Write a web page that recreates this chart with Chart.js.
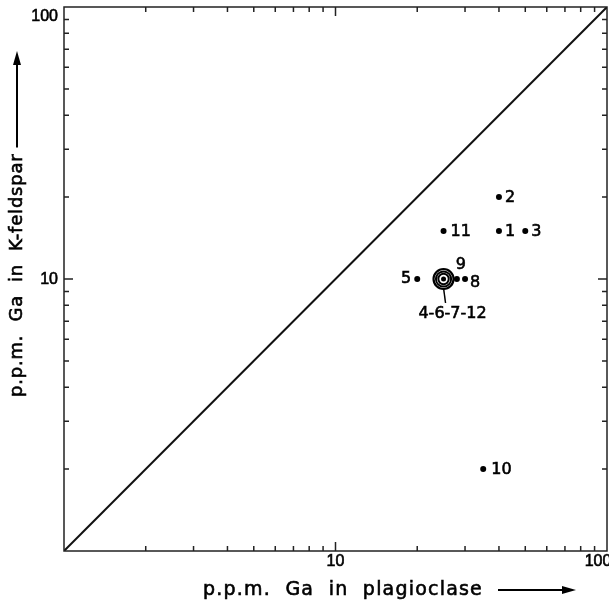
<!DOCTYPE html>
<html>
<head>
<meta charset="utf-8">
<script src="https://cdn.jsdelivr.net/npm/chart.js@4"></script>
<style>
  html, body { margin: 0; padding: 0; background: #fff; }
  #wrap { width: 609px; height: 604px; }
</style>
</head>
<body>
<div id="wrap"><canvas id="myChart" width="609" height="604"></canvas></div>
<script>
// samples plotted as single dots
const sampleLabels = ["1", "2", "3", "5", "8", "9", "10", "11"];
const plagioclase = [40, 40, 50, 20, 30, 28, 35, 25];
const kFeldspar = [15, 20, 15, 10, 10, 10, 2, 15];

// samples that fall on the same spot (drawn as concentric rings)
const sameLabels = ["4", "6", "7", "12"];
const samePlag = [25, 25, 25, 25];
const sameKfs = [10, 10, 10, 10];

// 1:1 line
const lineX = [1, 100];
const lineY = [1, 100];

const tickValues = [2, 3, 4, 5, 6, 7, 8, 9, 10, 20, 30, 40, 50, 60, 70, 80, 90];
const tickLabels = [10, 100];

const xTitle = "p.p.m.  Ga  in  plagioclase";
const yTitle = "p.p.m.  Ga  in  K-feldspar";

const font = "'Liberation Sans', Arial, sans-serif";
const titleFont = "'DejaVu Sans', sans-serif";

// where each label sits relative to its dot
const labelPlace = {
    "1": [6, 1, "left"], "2": [6, 1, "left"], "3": [6, 1, "left"],
    "11": [7, 1, "left"], "10": [8, 1, "left"], "5": [-6, 0, "right"],
    "9": [4, -14, "center"], "8": [5, 4, "left"]
};

// text with a thin outline so it reads as heavy as the print
function heavyText(ctx, s, x, y) {
    ctx.fillText(s, x, y);
    ctx.lineWidth = 0.6;
    ctx.strokeText(s, x, y);
}

function arrow(ctx, x1, y1, x2, y2) {
    const ang = Math.atan2(y2 - y1, x2 - x1);
    ctx.beginPath();
    ctx.moveTo(x1, y1);
    ctx.lineTo(x2 - 10 * Math.cos(ang), y2 - 10 * Math.sin(ang));
    ctx.lineWidth = 2;
    ctx.stroke();
    ctx.beginPath();
    ctx.moveTo(x2, y2);
    ctx.lineTo(x2 - 14 * Math.cos(ang) + 4 * Math.sin(ang), y2 - 14 * Math.sin(ang) - 4 * Math.cos(ang));
    ctx.lineTo(x2 - 14 * Math.cos(ang) - 4 * Math.sin(ang), y2 - 14 * Math.sin(ang) + 4 * Math.cos(ang));
    ctx.closePath();
    ctx.fill();
}

const frame = {
    id: "frame",
    afterDatasetsDraw(chart) {
        const ctx = chart.ctx;
        const a = chart.chartArea;
        const x = chart.scales.x, y = chart.scales.y;
        ctx.save();
        ctx.strokeStyle = "#222";
        ctx.fillStyle = "#000";
        ctx.lineWidth = 1.5;
        ctx.strokeRect(a.left, a.top, a.right - a.left, a.bottom - a.top);

        // inward ticks on all four sides
        tickValues.forEach(v => {
            const len = v === 10 ? 9 : 5;
            const px = x.getPixelForValue(v);
            const py = y.getPixelForValue(v);
            ctx.beginPath();
            ctx.moveTo(px, a.bottom); ctx.lineTo(px, a.bottom - len);
            ctx.moveTo(px, a.top); ctx.lineTo(px, a.top + len);
            ctx.moveTo(a.left, py); ctx.lineTo(a.left + len, py);
            ctx.moveTo(a.right, py); ctx.lineTo(a.right - len, py);
            ctx.stroke();
        });

        // tick labels
        ctx.strokeStyle = "#000";
        ctx.font = "16px " + font;
        ctx.textBaseline = "middle";
        tickLabels.forEach(v => {
            const shift = v === 100 ? 9 : 0;
            ctx.textAlign = "right";
            heavyText(ctx, String(v), a.left - 6, y.getPixelForValue(v) + shift + 1);
            ctx.textAlign = "center";
            heavyText(ctx, String(v), x.getPixelForValue(v) - shift, a.bottom + 11);
        });

        // point labels
        ctx.font = "16px " + titleFont;
        const pts = chart.getDatasetMeta(1).data;
        sampleLabels.forEach((lab, i) => {
            const p = labelPlace[lab];
            ctx.textAlign = p[2];
            heavyText(ctx, lab, pts[i].x + p[0], pts[i].y + p[1]);
        });

        // leader and label for the coincident samples
        const c = chart.getDatasetMeta(2).data[0];
        ctx.lineWidth = 1.5;
        ctx.beginPath();
        ctx.moveTo(c.x, c.y + 9);
        ctx.lineTo(c.x + 2, c.y + 24);
        ctx.stroke();
        ctx.textAlign = "center";
        heavyText(ctx, sameLabels.join("-"), c.x + 9, c.y + 35);

        // axis titles with arrows
        ctx.font = "19px " + titleFont;
        ctx.letterSpacing = "1.2px";
        ctx.textAlign = "left";
        heavyText(ctx, xTitle, 203, 590);
        const w = ctx.measureText(xTitle).width;
        arrow(ctx, Math.max(203 + w + 12, 498), 590, 576, 590);

        ctx.font = "18px " + titleFont;
        ctx.letterSpacing = "0.8px";
        ctx.translate(17, 397);
        ctx.rotate(-Math.PI / 2);
        heavyText(ctx, yTitle, 0, 0);
        const h = ctx.measureText(yTitle).width;
        arrow(ctx, h + 6, 0, 346, 0);
        ctx.restore();
    }
};

document.addEventListener("DOMContentLoaded", () => {
    const ctx = document.querySelector("#myChart").getContext("2d");
    new Chart(ctx, {
        type: "scatter",
        data: {
            datasets: [{
                type: "line",
                data: lineX.map((v, i) => ({ x: v, y: lineY[i] })),
                borderColor: "#111",
                borderWidth: 2,
                pointRadius: 0,
                fill: false
            }, {
                data: plagioclase.map((v, i) => ({ x: v, y: kFeldspar[i] })),
                backgroundColor: "#000",
                borderWidth: 0,
                pointRadius: 3
            }, {
                data: samePlag.map((v, i) => ({ x: v, y: sameKfs[i] })),
                pointRadius: [2.5, 5.2, 7.6, 10],
                backgroundColor: ["#000", "rgba(0,0,0,0)", "rgba(0,0,0,0)", "rgba(0,0,0,0)"],
                borderColor: "#000",
                borderWidth: [0, 2, 2, 2.2]
            }]
        },
        options: {
            responsive: false,
            animation: false,
            events: [],
            layout: { autoPadding: false, padding: { left: 64, right: 2, top: 7, bottom: 53 } },
            plugins: { legend: { display: false }, tooltip: { enabled: false } },
            scales: {
                x: { type: "logarithmic", min: 1, max: 100, display: false },
                y: { type: "logarithmic", min: 1, max: 100, display: false }
            }
        },
        plugins: [frame]
    });
});
</script>
</body>
</html>
